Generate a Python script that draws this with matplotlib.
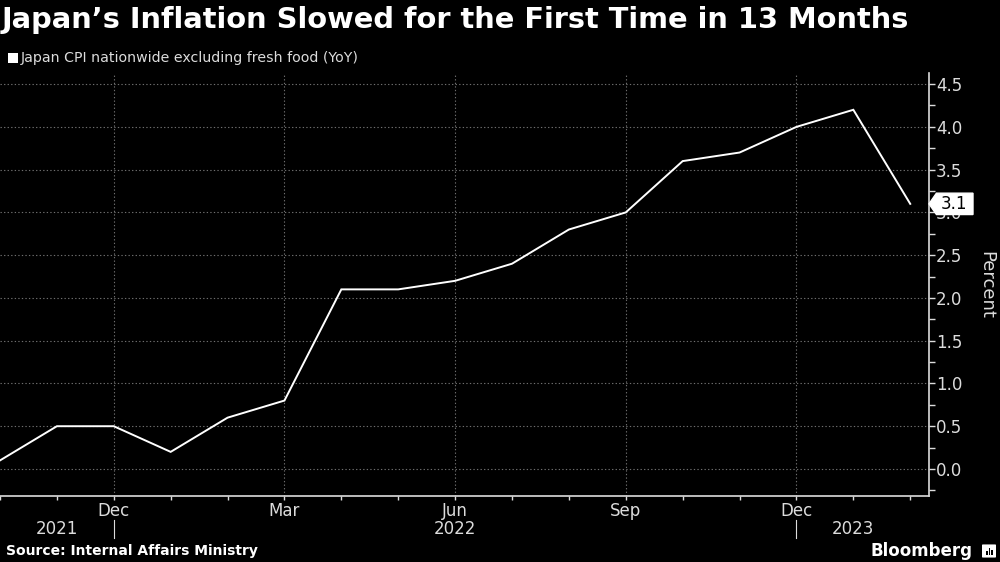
import matplotlib
matplotlib.use('Agg')
import matplotlib.pyplot as plt
from matplotlib.patches import Polygon, FancyBboxPatch, Rectangle
from matplotlib.ticker import MultipleLocator, FixedLocator
import numpy as np

# Japan CPI nationwide excluding fresh food, YoY %, Oct 2021 - Feb 2023
months = ['2021-10', '2021-11', '2021-12', '2022-01', '2022-02', '2022-03', '2022-04',
          '2022-05', '2022-06', '2022-07', '2022-08', '2022-09', '2022-10', '2022-11',
          '2022-12', '2023-01', '2023-02']
cpi = [0.1, 0.5, 0.5, 0.2, 0.6, 0.8, 2.1, 2.1, 2.2, 2.4, 2.8, 3.0, 3.6, 3.7, 4.0, 4.2, 3.1]
month_labels = {'2021-12': 'Dec', '2022-03': 'Mar', '2022-06': 'Jun', '2022-09': 'Sep', '2022-12': 'Dec'}
year_labels = {'2021-11': '2021', '2022-06': '2022', '2023-01': '2023'}
year_breaks = ['2021-12', '2022-12']

title = 'Japan\u2019s Inflation Slowed for the First Time in 13 Months'
legend_text = 'Japan CPI nationwide excluding fresh food (YoY)'
source = 'Source: Internal Affairs Ministry'

BG = '#000000'
FG = '#ffffff'
TXT = '#dcdcdc'
GRID = '#6e6e6e'

x = np.arange(len(months))
idx = {m: i for i, m in enumerate(months)}

fig = plt.figure(figsize=(10, 5.62), dpi=100, facecolor=BG)
ax = fig.add_axes([0.0, 1 - 496 / 562, 0.929, (496 - 73) / 562])
ax.set_facecolor(BG)

ax.plot(x, cpi, color=FG, lw=1.4, solid_joinstyle='miter', zorder=3)

ax.set_xlim(0, len(months) - 1 + 0.33)
ax.set_ylim(-0.316, 4.63)

# y axis on the right
ax.yaxis.tick_right()
ax.yaxis.set_major_locator(FixedLocator(np.arange(0, 4.51, 0.5)))
ax.yaxis.set_minor_locator(MultipleLocator(0.25))
ax.set_yticklabels(['%.1f' % v for v in np.arange(0, 4.51, 0.5)])
ax.tick_params(axis='y', which='major', length=4, width=1, color=TXT, labelcolor=TXT,
               labelsize=12, pad=1, direction='out')
ax.tick_params(axis='y', which='minor', length=4, width=1, color=TXT, direction='out')

# x axis: monthly ticks, labels every quarter
ax.xaxis.set_major_locator(FixedLocator(x))
ax.set_xticklabels([month_labels.get(m, '') for m in months])
ax.tick_params(axis='x', which='major', length=3, width=1, color=TXT, labelcolor=TXT,
               labelsize=12, pad=1, direction='out')

for s in ['top', 'left']:
    ax.spines[s].set_visible(False)
for s in ['bottom', 'right']:
    ax.spines[s].set_color(TXT)
    ax.spines[s].set_linewidth(1.2)

# grid
for v in np.arange(0, 4.51, 0.5):
    ax.axhline(v, color=GRID, lw=0.8, ls=(0, (1.2, 2)), zorder=1)
for m in month_labels:
    ax.axvline(idx[m], color=GRID, lw=0.8, ls=(0, (1.2, 2)), zorder=1)

# year labels and separators
for m, lab in year_labels.items():
    ax.annotate(lab, xy=(idx[m], 0), xycoords=('data', 'axes fraction'),
                xytext=(0, -24), textcoords='offset points', ha='center', va='center',
                color=TXT, fontsize=12)
for m in year_breaks:
    ax.plot([idx[m], idx[m]], [-0.057, -0.099], transform=ax.get_xaxis_transform(),
            color=TXT, lw=0.8, clip_on=False)

# last value tag
last = cpi[-1]
tr = ax.get_yaxis_transform()
w = 44 / 929
h = 0.125
tag = Polygon([[1.0, last], [1.0 + 0.008, last + h], [1.0 + w, last + h],
               [1.0 + w, last - h], [1.0 + 0.008, last - h]],
              closed=True, transform=tr, facecolor=FG, edgecolor=FG, clip_on=False, zorder=5)
ax.add_patch(tag)
ax.text(1.0 + 0.027, last, '%.1f' % last, transform=tr, ha='center', va='center',
        color='#000000', fontsize=12, zorder=6, clip_on=False)

# axis label
fig.text(0.986, 1 - 285 / 562, 'Percent', rotation=270, ha='center', va='center',
         color=TXT, fontsize=13)

# title and legend
fig.text(0.002, 1 - 20 / 562, title, ha='left', va='center', color=FG,
         fontsize=20.8, fontweight='heavy')
fig.add_artist(Rectangle((8 / 1000, 1 - 63 / 562), 10 / 1000, 10 / 562,
                         transform=fig.transFigure, facecolor=FG, edgecolor='none'))
fig.text(21 / 1000, 1 - 58 / 562, legend_text, ha='left', va='center', color=TXT, fontsize=10.2)

# footer
fig.text(0.006, 1 - 551 / 562, source, ha='left', va='center', color=FG,
         fontsize=10, fontweight='bold')
fig.text(0.973, 1 - 551 / 562, 'Bloomberg', ha='right', va='center', color=FG,
         fontsize=12, fontweight='bold')
fig.add_artist(FancyBboxPatch((983 / 1000, 1 - 557 / 562), 12 / 1000, 12 / 562,
                              boxstyle='round,pad=0.001', transform=fig.transFigure,
                              facecolor=FG, edgecolor='none'))
for i, bh in enumerate([4, 7, 5]):
    fig.add_artist(Rectangle(((986 + i * 2.5) / 1000, 1 - 555 / 562), 1.5 / 1000, bh / 562,
                             transform=fig.transFigure, facecolor=BG, edgecolor='none'))

fig.savefig('out.png', dpi=100, facecolor=BG)
